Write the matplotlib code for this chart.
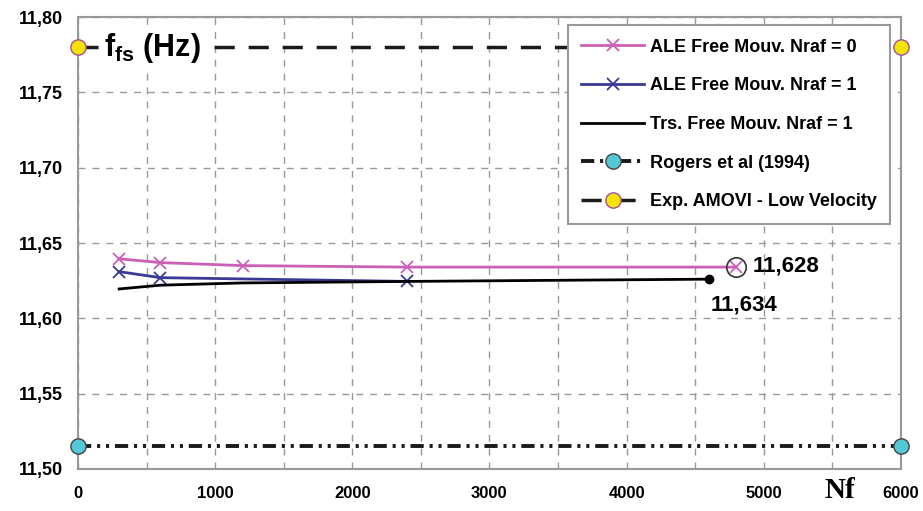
import matplotlib
matplotlib.use("Agg")
import matplotlib.pyplot as plt
from matplotlib.ticker import FuncFormatter, MultipleLocator

plt.rcParams['font.family'] = ['Liberation Sans', 'DejaVu Sans']

# Data
ale0_x = [300, 600, 1200, 2400, 4800]
ale0_y = [11.6395, 11.637, 11.635, 11.634, 11.634]
ale1_x = [300, 600, 2400]
ale1_y = [11.631, 11.627, 11.6245]
trs_x = [300, 600, 1200, 2400, 4600]
trs_y = [11.6195, 11.622, 11.6235, 11.6245, 11.626]
ref_x = [0, 6000]
rogers_y = [11.515, 11.515]
amovi_y = [11.780, 11.780]
xticks = [0, 1000, 2000, 3000, 4000, 5000, 6000]
yticks = [11.50, 11.55, 11.60, 11.65, 11.70, 11.75, 11.80]

fig = plt.figure(figsize=(9.23, 5.11), dpi=100)
ax = fig.add_axes([0.0845, 0.0822, 0.8915, 0.8845])

pink = '#cc5fb5'
blue = '#3a3a96'
ax.plot(ale0_x, ale0_y, color=pink, lw=2, marker='x', ms=9, mew=1.3,
        label='ALE Free Mouv. Nraf = 0', zorder=5)
ax.plot(ale1_x, ale1_y, color=blue, lw=2, marker='x', ms=9, mew=1.3,
        label='ALE Free Mouv. Nraf = 1', zorder=3)
ax.plot(trs_x, trs_y, color='black', lw=2, label='Trs. Free Mouv. Nraf = 1', zorder=4)
ax.plot(trs_x[-1:], trs_y[-1:], 'o', color='black', ms=6, zorder=6)
ax.plot(ale0_x[-1:], ale0_y[-1:], 'o', mfc='none', mec='#333333', ms=14, mew=1.2, zorder=6)

ax.plot(ref_x, rogers_y, color='#1a1a1a', lw=2.8, dashes=(3.4, 1.5, 0.8, 1.5, 0.8, 1.5),
        marker='o', ms=11, mfc='#55c8d8', mec='#444444', mew=1,
        label='Rogers et al (1994)', zorder=5, clip_on=False)
ax.plot(ref_x, amovi_y, color='#1a1a1a', lw=2.5, dashes=(5.8, 4),
        marker='o', ms=11, mfc='#f5e400', mec='#a050a0', mew=1,
        label='Exp. AMOVI - Low Velocity', zorder=5, clip_on=False)

ax.set_xlim(0, 6000)
ax.set_ylim(11.50, 11.80)
ax.set_xticks(xticks)
ax.set_yticks(yticks)
ax.xaxis.set_minor_locator(MultipleLocator(500))
ax.yaxis.set_major_formatter(FuncFormatter(lambda v, p: f"{v:.2f}".replace('.', ',')))
ax.grid(True, which='both', axis='x', color='#999999', ls=(0, (5, 5)), lw=1)
ax.grid(True, which='major', axis='y', color='#999999', ls=(0, (5, 5)), lw=1)
ax.set_axisbelow(True)
for s in ax.spines.values():
    s.set_color('#999999')
    s.set_linewidth(1.5)
ax.tick_params(which='both', length=0)
ax.tick_params(axis='x', pad=12)
ax.tick_params(axis='y', pad=11)
for lab in ax.get_xticklabels():
    lab.set_fontweight('bold')
    lab.set_fontsize(12)
for lab in ax.get_yticklabels():
    lab.set_fontweight('bold')
    lab.set_fontsize(13)

ax.text(4920, 11.6345, '11,628', fontsize=16, fontweight='bold', va='center', ha='left', zorder=7)
ax.text(4610, 11.609, '11,634', fontsize=16, fontweight='bold', va='center', ha='left', zorder=7)
ax.text(190, 11.7795, r'f$_{\mathregular{fs}}$ (Hz)', fontsize=22, fontweight='bold', va='center', ha='left',
        backgroundcolor='white', zorder=7)
ax.text(5555, 11.486, 'Nf', fontsize=21, fontweight='bold', va='center', ha='center', clip_on=False,
        family='Liberation Serif')

leg = ax.legend(loc='upper right', bbox_to_anchor=(0.987, 0.982), borderaxespad=0, frameon=True,
                fancybox=False, labelspacing=1.2, handlelength=3.5, handletextpad=0.3,
                borderpad=0.75, prop={'weight': 'bold', 'size': 13})
leg.get_frame().set_edgecolor('#999999')
leg.get_frame().set_linewidth(1.5)
leg.get_frame().set_alpha(1)
leg.set_zorder(10)

fig.savefig('out.png', dpi=100)
